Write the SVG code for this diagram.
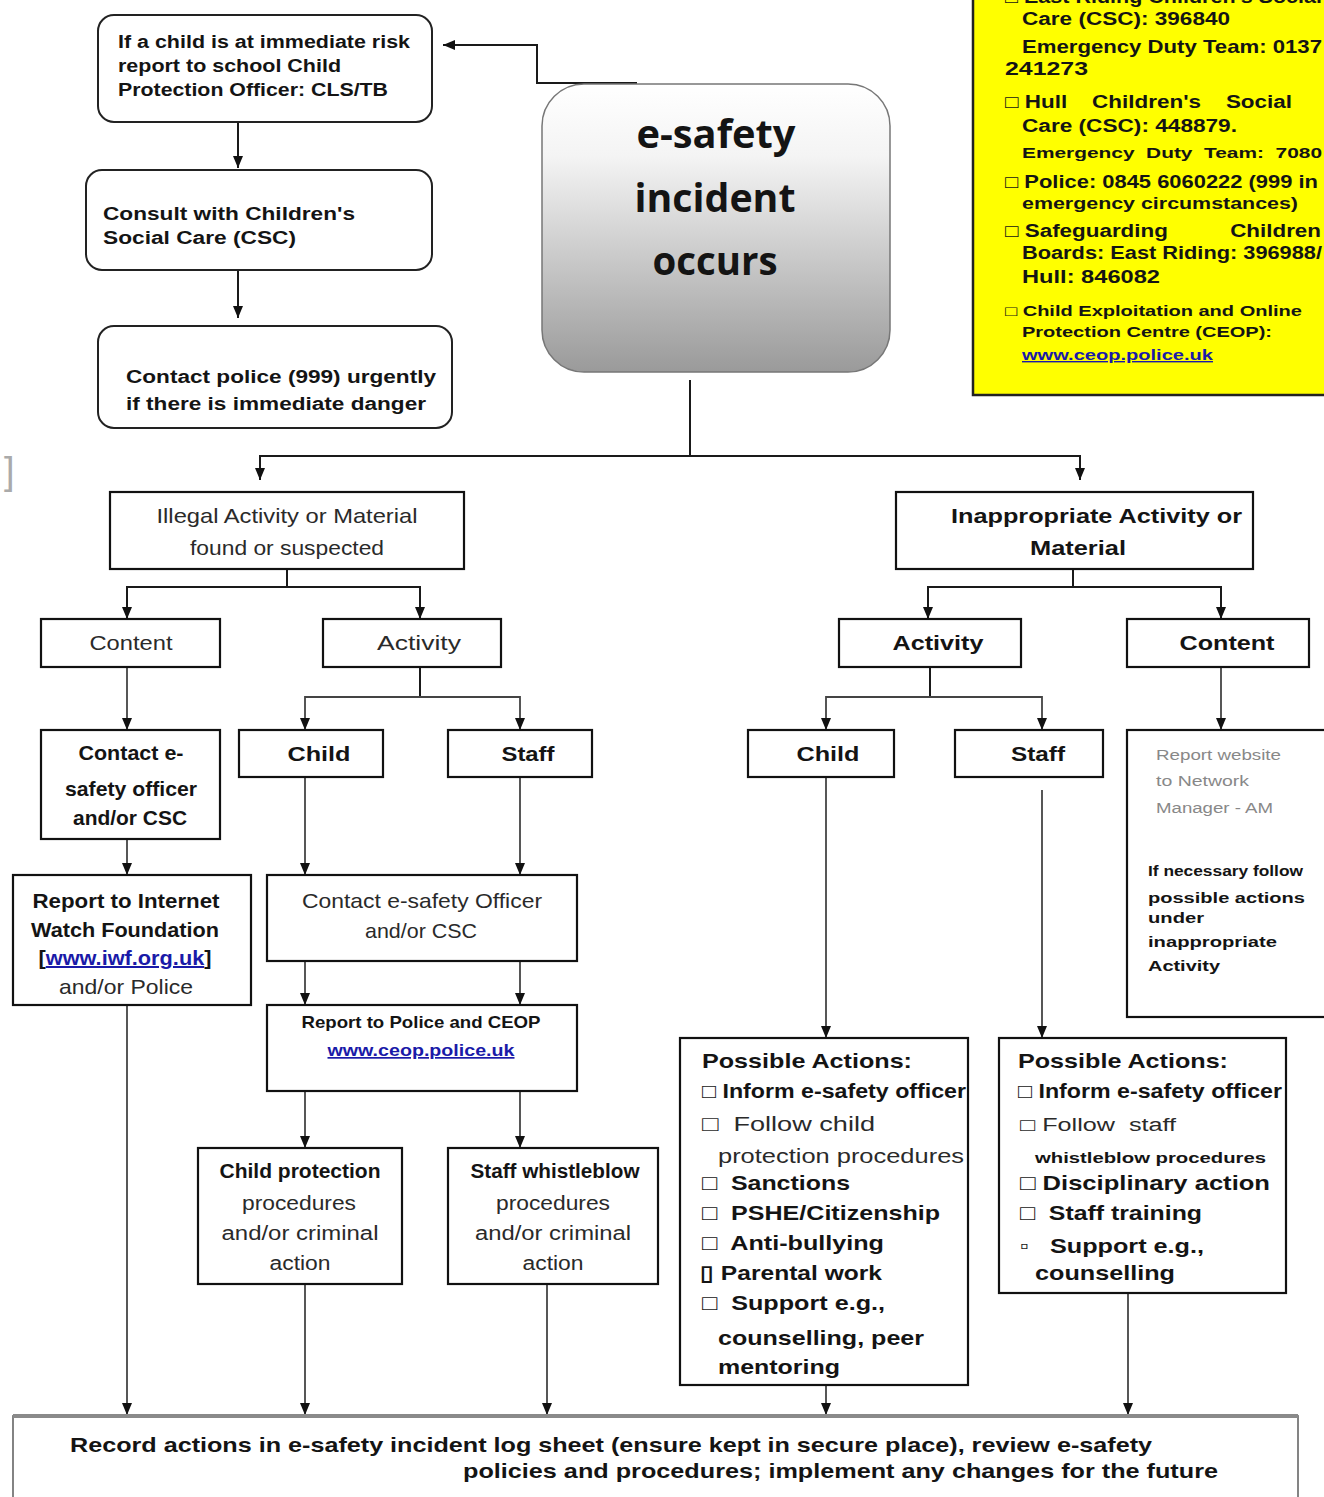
<svg xmlns="http://www.w3.org/2000/svg" width="1324" height="1497" viewBox="0 0 1324 1497">
<defs>
  <linearGradient id="grad" x1="0" y1="0" x2="0" y2="1">
    <stop offset="0" stop-color="#ffffff"/>
    <stop offset="0.25" stop-color="#f4f4f4"/>
    <stop offset="1" stop-color="#9a9a9a"/>
  </linearGradient>
  <marker id="arr" viewBox="0 0 12 10" refX="12" refY="5" markerWidth="12" markerHeight="10" markerUnits="userSpaceOnUse" orient="auto">
    <path d="M0,0 L12,5 L0,10 z" fill="#111"/>
  </marker>
  <style>
    .box{fill:#fff;stroke:#111;stroke-width:2.2}
    .rbox{fill:#fff;stroke:#222;stroke-width:2}
    .t{font-family:"Liberation Sans",Arial,sans-serif;font-weight:bold;fill:#141414}
    .r{font-family:"Liberation Sans",Arial,sans-serif;font-weight:normal;fill:#2a2a2a}
    .c{text-anchor:middle}
    .link{fill:#1a1aa8;text-decoration:underline}
    .conn{fill:none;stroke:#1a1a1a;stroke-width:2}
    .connl{fill:none;stroke:#444;stroke-width:1.8}
  </style>
</defs>
<rect width="1324" height="1497" fill="#fff"/>

<text class="r" x="4" y="484" font-size="38" style="fill:#aaa">]</text>

<g id="connectors">
  <path class="conn" d="M637,83 H537 V45 H443" marker-end="url(#arr)"/>
  <path class="conn" d="M238,122 V168" marker-end="url(#arr)"/>
  <path class="conn" d="M238,270 V318" marker-end="url(#arr)"/>
  <path class="conn" d="M690,380 V456"/>
  <path class="conn" d="M690,456 H260 V480" marker-end="url(#arr)"/>
  <path class="conn" d="M690,456 H1080 V480" marker-end="url(#arr)"/>
  <path class="conn" d="M287,569 V587"/>
  <path class="conn" d="M287,587 H127 V619" marker-end="url(#arr)"/>
  <path class="conn" d="M287,587 H420 V619" marker-end="url(#arr)"/>
  <path class="connl" d="M127,667 V730" marker-end="url(#arr)"/>
  <path class="conn" d="M420,667 V697"/>
  <path class="connl" d="M420,697 H305 V730" marker-end="url(#arr)"/>
  <path class="connl" d="M420,697 H520 V730" marker-end="url(#arr)"/>
  <path class="connl" d="M127,839 V875" marker-end="url(#arr)"/>
  <path class="connl" d="M305,777 V875" marker-end="url(#arr)"/>
  <path class="connl" d="M520,777 V875" marker-end="url(#arr)"/>
  <path class="connl" d="M305,961 V1005" marker-end="url(#arr)"/>
  <path class="connl" d="M520,961 V1005" marker-end="url(#arr)"/>
  <path class="connl" d="M305,1091 V1148" marker-end="url(#arr)"/>
  <path class="connl" d="M520,1091 V1148" marker-end="url(#arr)"/>
  <path class="connl" d="M127,1005 V1415" marker-end="url(#arr)"/>
  <path class="connl" d="M305,1284 V1415" marker-end="url(#arr)"/>
  <path class="connl" d="M547,1284 V1415" marker-end="url(#arr)"/>
  <path class="connl" d="M826,1385 V1415" marker-end="url(#arr)"/>
  <path class="connl" d="M1128,1293 V1415" marker-end="url(#arr)"/>
  <path class="conn" d="M1073,569 V587"/>
  <path class="conn" d="M1073,587 H928 V619" marker-end="url(#arr)"/>
  <path class="conn" d="M1073,587 H1221 V619" marker-end="url(#arr)"/>
  <path class="conn" d="M930,667 V697"/>
  <path class="connl" d="M930,697 H826 V730" marker-end="url(#arr)"/>
  <path class="connl" d="M930,697 H1042 V730" marker-end="url(#arr)"/>
  <path class="connl" d="M1221,667 V730" marker-end="url(#arr)"/>
  <path class="connl" d="M826,777 V1038" marker-end="url(#arr)"/>
  <path class="connl" d="M1042,790 V1038" marker-end="url(#arr)"/>
</g>

<g id="contacts">
  <rect x="973" y="-4" width="360" height="399" fill="#ffff00" stroke="#222" stroke-width="2.5"/>
  <text class="t" x="1005" y="3" font-size="18" textLength="317" lengthAdjust="spacingAndGlyphs">□ East Riding Children's Social</text>
  <text class="t" x="1022" y="25" font-size="18" textLength="208" lengthAdjust="spacingAndGlyphs">Care (CSC): 396840</text>
  <text class="t" x="1022" y="53" font-size="19" textLength="300" lengthAdjust="spacingAndGlyphs">Emergency Duty Team: 0137</text>
  <text class="t" x="1005" y="75" font-size="19" textLength="83" lengthAdjust="spacingAndGlyphs">241273</text>
  <text class="t" x="1005" y="108" font-size="18" textLength="287" lengthAdjust="spacingAndGlyphs" xml:space="preserve">□ Hull    Children's    Social</text>
  <text class="t" x="1022" y="132" font-size="18" textLength="215" lengthAdjust="spacingAndGlyphs">Care (CSC): 448879.</text>
  <text class="t" x="1022" y="158" font-size="14" textLength="300" lengthAdjust="spacingAndGlyphs" xml:space="preserve">Emergency  Duty  Team:  7080</text>
  <text class="t" x="1005" y="188" font-size="18" textLength="313" lengthAdjust="spacingAndGlyphs">□ Police: 0845 6060222 (999 in</text>
  <text class="t" x="1022" y="209" font-size="17" textLength="276" lengthAdjust="spacingAndGlyphs">emergency circumstances)</text>
  <text class="t" x="1005" y="237" font-size="18" textLength="316" lengthAdjust="spacingAndGlyphs" xml:space="preserve">□ Safeguarding          Children</text>
  <text class="t" x="1022" y="259" font-size="18" textLength="300" lengthAdjust="spacingAndGlyphs">Boards: East Riding: 396988/</text>
  <text class="t" x="1022" y="283" font-size="18" textLength="138" lengthAdjust="spacingAndGlyphs">Hull: 846082</text>
  <text class="t" x="1005" y="316" font-size="14" textLength="297" lengthAdjust="spacingAndGlyphs">□ Child Exploitation and Online</text>
  <text class="t" x="1022" y="337" font-size="14" textLength="250" lengthAdjust="spacingAndGlyphs">Protection Centre (CEOP):</text>
  <text class="t link" x="1022" y="360" font-size="14" textLength="191" lengthAdjust="spacingAndGlyphs">www.ceop.police.uk</text>
</g>

<g id="risk">
  <rect class="rbox" x="98" y="15" width="334" height="107" rx="16"/>
  <text class="t" x="118" y="48" font-size="18" textLength="292" lengthAdjust="spacingAndGlyphs">If a child is at immediate risk</text>
  <text class="t" x="118" y="72" font-size="18" textLength="223" lengthAdjust="spacingAndGlyphs">report to school Child</text>
  <text class="t" x="118" y="96" font-size="18" textLength="270" lengthAdjust="spacingAndGlyphs">Protection Officer: CLS/TB</text>
</g>
<g id="consult">
  <rect class="rbox" x="86" y="170" width="346" height="100" rx="16"/>
  <text class="t" x="103" y="220" font-size="18" textLength="252" lengthAdjust="spacingAndGlyphs">Consult with Children's</text>
  <text class="t" x="103" y="244" font-size="18" textLength="193" lengthAdjust="spacingAndGlyphs">Social Care (CSC)</text>
</g>
<g id="police">
  <rect class="rbox" x="98" y="326" width="354" height="102" rx="16"/>
  <text class="t" x="126" y="383" font-size="18" textLength="310" lengthAdjust="spacingAndGlyphs">Contact police (999) urgently</text>
  <text class="t" x="126" y="410" font-size="18" textLength="300" lengthAdjust="spacingAndGlyphs">if there is immediate danger</text>
</g>

<g id="incident">
  <rect x="542" y="84" width="348" height="288" rx="42" fill="url(#grad)" stroke="#777" stroke-width="1.5"/>
  <text class="t c" x="716" y="148" font-size="40" textLength="159" lengthAdjust="spacingAndGlyphs" style="font-family:'Open Sans','Liberation Sans',sans-serif">e-safety</text>
  <text class="t c" x="715" y="212" font-size="40" textLength="161" lengthAdjust="spacingAndGlyphs" style="font-family:'Open Sans','Liberation Sans',sans-serif">incident</text>
  <text class="t c" x="715" y="275" font-size="40" textLength="125" lengthAdjust="spacingAndGlyphs" style="font-family:'Open Sans','Liberation Sans',sans-serif">occurs</text>
</g>

<g id="illegal">
  <rect class="box" x="110" y="492" width="354" height="77"/>
  <text class="r c" x="287" y="523" font-size="21" textLength="261" lengthAdjust="spacingAndGlyphs">Illegal Activity or Material</text>
  <text class="r c" x="287" y="555" font-size="21" textLength="194" lengthAdjust="spacingAndGlyphs">found or suspected</text>
</g>
<g id="content-l">
  <rect class="box" x="41" y="619" width="179" height="48"/>
  <text class="r c" x="131" y="650" font-size="21" textLength="83" lengthAdjust="spacingAndGlyphs">Content</text>
</g>
<g id="activity-l">
  <rect class="box" x="323" y="619" width="178" height="48"/>
  <text class="r c" x="419" y="650" font-size="21" textLength="84" lengthAdjust="spacingAndGlyphs">Activity</text>
</g>
<g id="contact-esafety">
  <rect class="box" x="41" y="730" width="179" height="109"/>
  <text class="t c" x="131" y="760" font-size="21" textLength="105" lengthAdjust="spacingAndGlyphs">Contact e-</text>
  <text class="t c" x="131" y="796" font-size="21" textLength="132" lengthAdjust="spacingAndGlyphs">safety officer</text>
  <text class="t c" x="130" y="825" font-size="21" textLength="114" lengthAdjust="spacingAndGlyphs">and/or CSC</text>
</g>
<g id="child-l">
  <rect class="box" x="239" y="730" width="144" height="47"/>
  <text class="t c" x="319" y="761" font-size="21" textLength="63" lengthAdjust="spacingAndGlyphs">Child</text>
</g>
<g id="staff-l">
  <rect class="box" x="448" y="730" width="144" height="47"/>
  <text class="t c" x="528" y="761" font-size="21" textLength="53" lengthAdjust="spacingAndGlyphs">Staff</text>
</g>
<g id="iwf">
  <rect class="box" x="13" y="875" width="238" height="130"/>
  <text class="t c" x="126" y="908" font-size="21" textLength="187" lengthAdjust="spacingAndGlyphs">Report to Internet</text>
  <text class="t c" x="125" y="937" font-size="21" textLength="188" lengthAdjust="spacingAndGlyphs">Watch Foundation</text>
  <text class="t c" x="125" y="965" font-size="20" textLength="173" lengthAdjust="spacingAndGlyphs"><tspan>[</tspan><tspan class="link">www.iwf.org.uk</tspan><tspan>]</tspan></text>
  <text class="r c" x="126" y="994" font-size="21" textLength="134" lengthAdjust="spacingAndGlyphs">and/or Police</text>
</g>
<g id="contact-officer">
  <rect class="box" x="267" y="875" width="310" height="86"/>
  <text class="r c" x="422" y="908" font-size="21" textLength="240" lengthAdjust="spacingAndGlyphs">Contact e-safety Officer</text>
  <text class="r c" x="421" y="938" font-size="21" textLength="112" lengthAdjust="spacingAndGlyphs">and/or CSC</text>
</g>
<g id="report-ceop">
  <rect class="box" x="267" y="1005" width="310" height="86"/>
  <text class="t c" x="421" y="1028" font-size="17" textLength="239" lengthAdjust="spacingAndGlyphs">Report to Police and CEOP</text>
  <text class="t c link" x="421" y="1056" font-size="17" textLength="187" lengthAdjust="spacingAndGlyphs">www.ceop.police.uk</text>
</g>
<g id="child-protection">
  <rect class="box" x="198" y="1148" width="204" height="136"/>
  <text class="t c" x="300" y="1178" font-size="20" textLength="161" lengthAdjust="spacingAndGlyphs">Child protection</text>
  <text class="r c" x="299" y="1210" font-size="20" textLength="114" lengthAdjust="spacingAndGlyphs">procedures</text>
  <text class="r c" x="300" y="1240" font-size="20" textLength="157" lengthAdjust="spacingAndGlyphs">and/or criminal</text>
  <text class="r c" x="300" y="1270" font-size="20" textLength="61" lengthAdjust="spacingAndGlyphs">action</text>
</g>
<g id="staff-whistle">
  <rect class="box" x="448" y="1148" width="210" height="136"/>
  <text class="t c" x="555" y="1178" font-size="20" textLength="169" lengthAdjust="spacingAndGlyphs">Staff whistleblow</text>
  <text class="r c" x="553" y="1210" font-size="20" textLength="114" lengthAdjust="spacingAndGlyphs">procedures</text>
  <text class="r c" x="553" y="1240" font-size="20" textLength="156" lengthAdjust="spacingAndGlyphs">and/or criminal</text>
  <text class="r c" x="553" y="1270" font-size="20" textLength="61" lengthAdjust="spacingAndGlyphs">action</text>
</g>

<g id="inappropriate">
  <rect class="box" x="896" y="492" width="357" height="77"/>
  <text class="t" x="951" y="523" font-size="21" textLength="291" lengthAdjust="spacingAndGlyphs">Inappropriate Activity or</text>
  <text class="t c" x="1078" y="555" font-size="21" textLength="96" lengthAdjust="spacingAndGlyphs">Material</text>
</g>
<g id="activity-r">
  <rect class="box" x="839" y="619" width="182" height="48"/>
  <text class="t c" x="938" y="650" font-size="21" textLength="91" lengthAdjust="spacingAndGlyphs">Activity</text>
</g>
<g id="content-r">
  <rect class="box" x="1127" y="619" width="182" height="48"/>
  <text class="t c" x="1227" y="650" font-size="21" textLength="95" lengthAdjust="spacingAndGlyphs">Content</text>
</g>
<g id="child-r">
  <rect class="box" x="748" y="730" width="146" height="47"/>
  <text class="t c" x="828" y="761" font-size="21" textLength="63" lengthAdjust="spacingAndGlyphs">Child</text>
</g>
<g id="staff-r">
  <rect class="box" x="955" y="730" width="148" height="47"/>
  <text class="t c" x="1038" y="761" font-size="21" textLength="54" lengthAdjust="spacingAndGlyphs">Staff</text>
</g>
<g id="report-website">
  <rect class="box" x="1127" y="730" width="210" height="287"/>
  <text class="r" x="1156" y="760" font-size="14" textLength="125" lengthAdjust="spacingAndGlyphs" style="fill:#888">Report website</text>
  <text class="r" x="1156" y="786" font-size="14" textLength="93" lengthAdjust="spacingAndGlyphs" style="fill:#888">to Network</text>
  <text class="r" x="1156" y="813" font-size="14" textLength="117" lengthAdjust="spacingAndGlyphs" style="fill:#888">Manager - AM</text>
  <text class="t" x="1148" y="876" font-size="14" textLength="155" lengthAdjust="spacingAndGlyphs">If necessary follow</text>
  <text class="t" x="1148" y="903" font-size="14" textLength="157" lengthAdjust="spacingAndGlyphs">possible actions</text>
  <text class="t" x="1148" y="923" font-size="14" textLength="56" lengthAdjust="spacingAndGlyphs">under</text>
  <text class="t" x="1148" y="947" font-size="14" textLength="129" lengthAdjust="spacingAndGlyphs">inappropriate</text>
  <text class="t" x="1148" y="971" font-size="14" textLength="72" lengthAdjust="spacingAndGlyphs">Activity</text>
</g>
<g id="actions-child">
  <rect class="box" x="680" y="1038" width="288" height="347"/>
  <text class="t" x="702" y="1068" font-size="21" textLength="210" lengthAdjust="spacingAndGlyphs">Possible Actions:</text>
  <text class="t" x="702" y="1098" font-size="20" textLength="264" lengthAdjust="spacingAndGlyphs">□ Inform e-safety officer</text>
  <text class="r" x="702" y="1131" font-size="21" textLength="173" lengthAdjust="spacingAndGlyphs" xml:space="preserve">□  Follow child</text>
  <text class="r" x="718" y="1163" font-size="21" textLength="246" lengthAdjust="spacingAndGlyphs">protection procedures</text>
  <text class="t" x="702" y="1190" font-size="21" textLength="148" lengthAdjust="spacingAndGlyphs" xml:space="preserve">□  Sanctions</text>
  <text class="t" x="702" y="1220" font-size="21" textLength="238" lengthAdjust="spacingAndGlyphs" xml:space="preserve">□  PSHE/Citizenship</text>
  <text class="t" x="702" y="1250" font-size="21" textLength="182" lengthAdjust="spacingAndGlyphs" xml:space="preserve">□  Anti-bullying</text>
  <text class="t" x="700" y="1280" font-size="21" textLength="182" lengthAdjust="spacingAndGlyphs">▯ Parental work</text>
  <text class="t" x="702" y="1310" font-size="21" textLength="183" lengthAdjust="spacingAndGlyphs" xml:space="preserve">□  Support e.g.,</text>
  <text class="t" x="718" y="1345" font-size="21" textLength="206" lengthAdjust="spacingAndGlyphs">counselling, peer</text>
  <text class="t" x="718" y="1374" font-size="21" textLength="122" lengthAdjust="spacingAndGlyphs">mentoring</text>
</g>
<g id="actions-staff">
  <rect class="box" x="999" y="1038" width="287" height="255"/>
  <text class="t" x="1018" y="1068" font-size="21" textLength="210" lengthAdjust="spacingAndGlyphs">Possible Actions:</text>
  <text class="t" x="1018" y="1098" font-size="20" textLength="264" lengthAdjust="spacingAndGlyphs">□ Inform e-safety officer</text>
  <text class="r" x="1020" y="1131" font-size="18" textLength="156" lengthAdjust="spacingAndGlyphs" xml:space="preserve">□ Follow  staff</text>
  <text class="t" x="1035" y="1163" font-size="15" textLength="231" lengthAdjust="spacingAndGlyphs">whistleblow procedures</text>
  <text class="t" x="1020" y="1190" font-size="21" textLength="250" lengthAdjust="spacingAndGlyphs">□ Disciplinary action</text>
  <text class="t" x="1020" y="1220" font-size="21" textLength="182" lengthAdjust="spacingAndGlyphs" xml:space="preserve">□  Staff training</text>
  <text class="t" x="1020" y="1253" font-size="21" textLength="184" lengthAdjust="spacingAndGlyphs" xml:space="preserve">▫   Support e.g.,</text>
  <text class="t" x="1035" y="1280" font-size="21" textLength="140" lengthAdjust="spacingAndGlyphs">counselling</text>
</g>

<g id="record">
  <rect x="13" y="1416" width="1285" height="100" fill="#fff" stroke="#777" stroke-width="1.8"/>
  <line x1="13" y1="1416" x2="1298" y2="1416" stroke="#8a8a8a" stroke-width="4"/>
  <text class="t" x="70" y="1452" font-size="21" textLength="1082" lengthAdjust="spacingAndGlyphs">Record actions in e-safety incident log sheet (ensure kept in secure place), review e-safety</text>
  <text class="t" x="463" y="1478" font-size="21" textLength="755" lengthAdjust="spacingAndGlyphs">policies and procedures; implement any changes for the future</text>
</g>
</svg>
